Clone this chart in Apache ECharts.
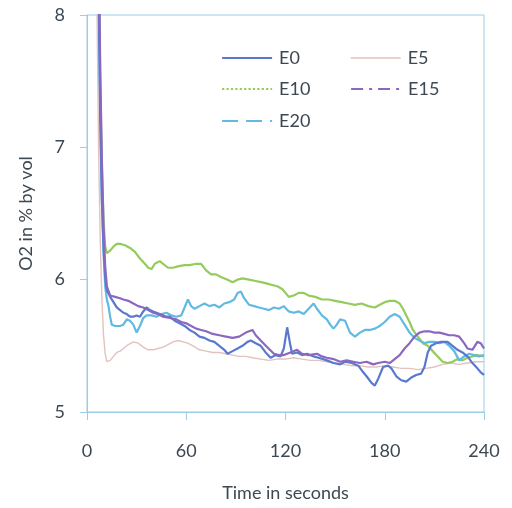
<!DOCTYPE html>
<html>
<head>
<meta charset="utf-8">
<script src="https://cdn.jsdelivr.net/npm/echarts@6/dist/echarts.min.js"></script>
<style>
html,body{margin:0;padding:0;background:#fff;}
#chart{width:512px;height:508px;}
</style>
</head>
<body>
<div id="chart"></div>
<script>
const seriesNames = ['E0', 'E5', 'E10', 'E15', 'E20'];
const xTicks = [0, 60, 120, 180, 240];
const yTicks = [5, 6, 7, 8];

const e0Data = [[6,9.4],[7,8.2],[8,7.2],[9,6.6],[10,6.25],[11,6.02],[12,5.92],[14,5.87],[16,5.83],[18,5.79],[20,5.77],[22,5.75],[24,5.74],[26,5.72],[28,5.72],[30,5.73],[32,5.72],[34,5.76],[36,5.79],[38,5.77],[40,5.76],[44,5.74],[48,5.72],[50,5.72],[53,5.69],[56,5.67],[59,5.65],[62,5.62],[65,5.6],[68,5.57],[71,5.56],[74,5.54],[77,5.53],[80,5.5],[83,5.47],[85,5.44],[88,5.46],[91,5.48],[94,5.5],[97,5.53],[99,5.54],[102,5.52],[105,5.5],[108,5.45],[111,5.41],[114,5.43],[117,5.42],[119,5.48],[121,5.64],[123,5.5],[124,5.44],[127,5.45],[130,5.43],[133,5.44],[137,5.42],[140,5.41],[145,5.39],[149,5.37],[153,5.36],[156,5.38],[160,5.37],[164,5.35],[167,5.3],[169,5.27],[172,5.22],[174,5.2],[176,5.25],[179,5.34],[182,5.35],[184,5.33],[187,5.27],[190,5.24],[193,5.23],[196,5.26],[199,5.28],[202,5.29],[204,5.34],[206,5.45],[208,5.5],[211,5.52],[214,5.53],[218,5.53],[221,5.5],[224,5.47],[227,5.45],[230,5.42],[233,5.37],[236,5.33],[238,5.3],[240,5.28]];

const e5Data = [[5,9.2],[6,8.1],[7,7.0],[8,6.3],[9,5.85],[10,5.58],[11,5.44],[12,5.38],[14,5.39],[16,5.42],[18,5.45],[20,5.46],[22,5.48],[25,5.51],[28,5.53],[31,5.52],[34,5.49],[37,5.47],[40,5.47],[43,5.48],[46,5.49],[49,5.51],[52,5.53],[55,5.54],[58,5.53],[61,5.52],[64,5.5],[68,5.47],[72,5.46],[76,5.45],[80,5.45],[84,5.44],[88,5.43],[92,5.42],[96,5.42],[100,5.41],[105,5.4],[110,5.39],[115,5.4],[120,5.4],[125,5.41],[130,5.4],[135,5.39],[140,5.39],[145,5.38],[150,5.37],[155,5.36],[160,5.35],[165,5.35],[170,5.34],[175,5.34],[180,5.35],[185,5.34],[190,5.33],[195,5.33],[200,5.32],[205,5.33],[210,5.34],[215,5.36],[220,5.37],[225,5.36],[230,5.37],[235,5.38],[240,5.38]];

const e10Data = [[6,9.6],[7,8.5],[8,7.5],[9,6.85],[10,6.45],[11,6.25],[12,6.2],[14,6.22],[16,6.25],[18,6.27],[20,6.27],[23,6.26],[26,6.24],[29,6.21],[32,6.16],[35,6.12],[37,6.09],[39,6.08],[41,6.12],[44,6.14],[46,6.12],[49,6.09],[52,6.09],[55,6.1],[59,6.11],[62,6.11],[66,6.12],[69,6.12],[72,6.07],[75,6.04],[78,6.04],[81,6.02],[85,6.0],[88,5.98],[91,6.0],[94,6.01],[98,6.0],[102,5.99],[106,5.98],[109,5.97],[112,5.96],[115,5.95],[118,5.93],[120,5.9],[122,5.87],[125,5.88],[128,5.9],[131,5.9],[134,5.88],[138,5.87],[142,5.85],[146,5.85],[150,5.84],[154,5.83],[158,5.82],[162,5.81],[166,5.82],[170,5.8],[174,5.79],[177,5.81],[180,5.83],[183,5.84],[186,5.84],[189,5.82],[191,5.78],[193,5.73],[195,5.68],[197,5.62],[200,5.57],[203,5.52],[206,5.5],[209,5.46],[212,5.42],[215,5.38],[218,5.37],[221,5.38],[224,5.4],[227,5.39],[230,5.41],[233,5.42],[236,5.43],[240,5.42]];

const e15Data = [[6,9.8],[7,8.6],[8,7.6],[9,6.9],[10,6.4],[11,6.1],[12,5.95],[14,5.88],[17,5.87],[20,5.86],[22,5.85],[25,5.84],[28,5.82],[31,5.8],[34,5.79],[37,5.77],[40,5.75],[43,5.74],[46,5.72],[50,5.71],[54,5.7],[57,5.68],[60,5.67],[63,5.65],[66,5.63],[69,5.62],[72,5.61],[76,5.59],[80,5.58],[84,5.57],[88,5.56],[92,5.57],[96,5.6],[100,5.62],[102,5.58],[105,5.54],[109,5.49],[113,5.44],[116,5.43],[119,5.43],[123,5.45],[127,5.47],[130,5.44],[134,5.43],[139,5.44],[142,5.42],[145,5.41],[149,5.4],[153,5.38],[157,5.39],[161,5.38],[165,5.37],[169,5.38],[173,5.36],[176,5.37],[180,5.38],[183,5.37],[186,5.4],[189,5.43],[192,5.48],[195,5.52],[198,5.57],[201,5.6],[204,5.61],[207,5.61],[210,5.6],[213,5.6],[216,5.59],[219,5.58],[222,5.58],[225,5.57],[228,5.52],[230,5.48],[233,5.47],[236,5.53],[238,5.52],[240,5.48]];

const e20Data = [[6,9.5],[7,8.3],[8,7.3],[9,6.6],[10,6.2],[11,5.95],[12,5.85],[13,5.8],[14,5.72],[15,5.66],[17,5.65],[20,5.65],[22,5.66],[24,5.7],[26,5.69],[28,5.66],[30,5.6],[32,5.65],[34,5.71],[36,5.73],[39,5.73],[42,5.72],[45,5.74],[48,5.75],[51,5.73],[54,5.72],[57,5.73],[59,5.79],[61,5.85],[63,5.8],[65,5.78],[68,5.8],[71,5.82],[74,5.8],[77,5.81],[80,5.79],[83,5.82],[86,5.83],[89,5.85],[91,5.9],[93,5.91],[95,5.86],[98,5.81],[101,5.8],[104,5.79],[107,5.78],[110,5.77],[113,5.79],[116,5.78],[119,5.8],[122,5.76],[125,5.75],[128,5.76],[131,5.74],[134,5.78],[137,5.82],[139,5.78],[142,5.73],[145,5.7],[147,5.66],[149,5.63],[151,5.66],[153,5.7],[156,5.69],[159,5.6],[162,5.57],[165,5.6],[168,5.62],[171,5.62],[174,5.63],[177,5.65],[180,5.68],[183,5.72],[186,5.74],[189,5.72],[192,5.66],[195,5.6],[198,5.56],[201,5.54],[204,5.52],[207,5.53],[210,5.53],[213,5.52],[216,5.53],[219,5.5],[222,5.46],[225,5.39],[228,5.42],[231,5.44],[234,5.43],[237,5.42],[240,5.43]];

const seriesData = [e0Data, e5Data, e10Data, e15Data, e20Data];
const colors = ['#5b78cf', '#e2c2bd', '#94cc5c', '#8a68c0', '#62b9e2'];
const widths = [2.2, 1.4, 2.2, 2.2, 2.2];
const legendDash = ['solid', 'solid', 'dotted', [12, 6, 3, 6], [16, 8]];
const legendPos = [[216, 44], [345, 44], [216, 75], [345, 75], [216, 107]];

const chart = echarts.init(document.getElementById('chart'));
const font = 'Lato, "Open Sans", sans-serif';
const textColor = '#3d4852';
const axisColor = '#9ccde6';

const legends = seriesNames.map((n, i) => ({
  data: [{
    name: n,
    itemStyle: { opacity: 0 },
    lineStyle: { type: legendDash[i], width: i === 1 ? 1.4 : 2.2, color: colors[i], opacity: 1 }
  }],
  left: legendPos[i][0], top: legendPos[i][1],
  itemWidth: 50, itemHeight: 14, itemGap: 6,
  textStyle: { fontFamily: font, fontSize: 18, color: textColor, padding: [0, 0, 0, 2] },
  selectedMode: false
}));

chart.setOption({
  animation: false,
  backgroundColor: '#fff',
  grid: { left: 87, right: 28, top: 15, bottom: 96, show: true, borderColor: axisColor, borderWidth: 1 },
  legend: legends,
  xAxis: {
    type: 'value', min: xTicks[0], max: xTicks[xTicks.length - 1], interval: 60,
    name: 'Time in seconds', nameLocation: 'middle', nameGap: 72,
    nameTextStyle: { fontFamily: font, fontSize: 18, color: textColor },
    axisLine: { show: true, lineStyle: { color: axisColor, width: 1 } },
    axisTick: { show: true, inside: false, length: 8, lineStyle: { color: axisColor } },
    axisLabel: { fontFamily: font, fontSize: 18, color: textColor, margin: 30 },
    splitLine: { show: false }
  },
  yAxis: {
    type: 'value', min: yTicks[0], max: yTicks[yTicks.length - 1], interval: 1,
    name: 'O2 in % by vol', nameLocation: 'middle', nameGap: 52, nameRotate: 90,
    nameTextStyle: { fontFamily: font, fontSize: 18, color: textColor },
    axisLine: { show: true, lineStyle: { color: axisColor, width: 1 } },
    axisTick: { show: true, inside: false, length: 7, lineStyle: { color: axisColor } },
    axisLabel: { fontFamily: font, fontSize: 18, color: textColor, margin: 22 },
    splitLine: { show: false }
  },
  series: seriesNames.map((n, i) => ({
    name: n, type: 'line', data: seriesData[i], symbol: 'none', clip: true,
    lineStyle: { color: colors[i], width: widths[i], type: 'solid' },
    itemStyle: { color: colors[i] },
    z: [3, 1, 2, 4, 2][i]
  }))
});
</script>
</body>
</html>
